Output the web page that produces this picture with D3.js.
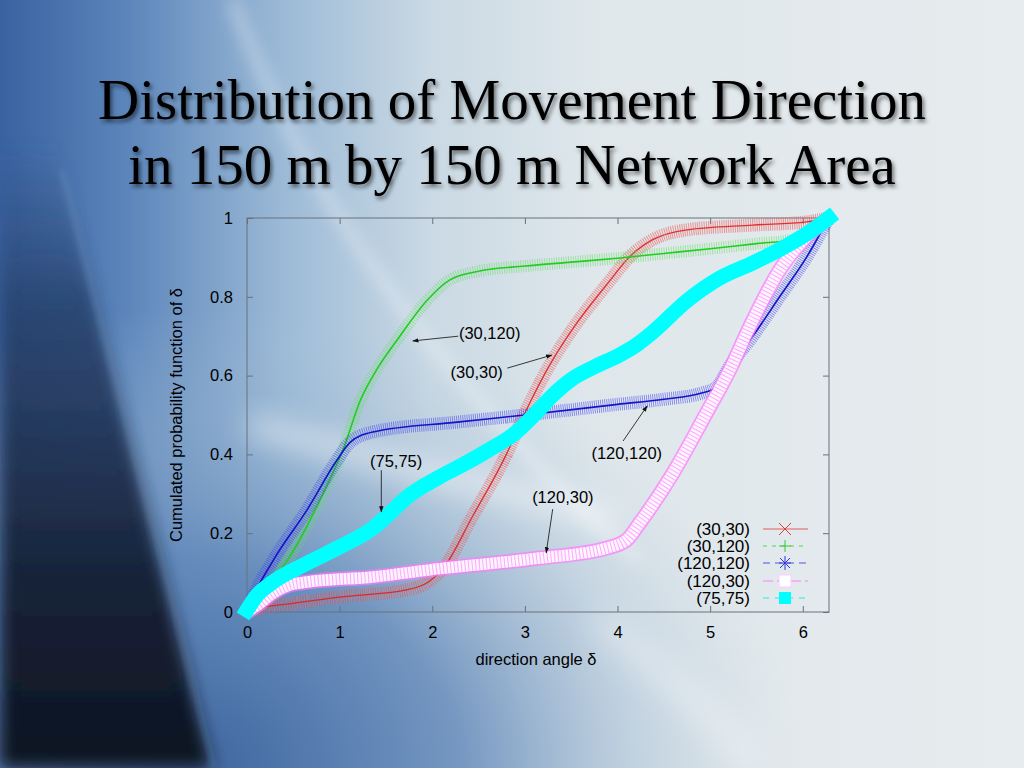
<!DOCTYPE html>
<html><head><meta charset="utf-8">
<script src="https://cdn.jsdelivr.net/npm/d3@7"></script>
<style>
html,body{margin:0;padding:0;overflow:hidden;background:#e4e9ec}
svg{display:block}
text{font-family:"Liberation Sans",Arial,sans-serif}
</style></head>
<body>
<svg id="chart" width="1024" height="768"></svg>
<script>
// ---------- data ----------
const titleLines = ["Distribution of Movement Direction", "in 150 m by 150 m Network Area"];
const xTicks = [0, 1, 2, 3, 4, 5, 6];
const yTicks = [0, 0.2, 0.4, 0.6, 0.8, 1];
const xLabel = "direction angle \u03b4";
const yLabel = "Cumulated probability function of \u03b4";
const seriesNames = ["(30,30)", "(30,120)", "(120,120)", "(120,30)", "(75,75)"];

const s30_30 = [[0.08,0],[0.14,0.01],[0.5,0.022],[1.0,0.038],[1.72,0.056],[1.95,0.075],[2.1,0.105],[2.44,0.245],[2.8,0.4],[3.0,0.505],[3.3,0.64],[3.52,0.72],[3.88,0.83],[4.15,0.906],[4.38,0.945],[4.75,0.97],[5.46,0.982],[6.04,0.99],[6.28,1]];
const s30_120 = [[0,0],[0.21,0.064],[0.46,0.14],[0.82,0.3],[1.05,0.42],[1.22,0.535],[1.4,0.615],[1.65,0.70],[1.94,0.79],[2.19,0.843],[2.5,0.865],[3.0,0.878],[3.5,0.888],[4.0,0.898],[4.5,0.91],[5.0,0.922],[5.5,0.935],[5.9,0.945],[6.1,0.965],[6.28,1]];
const s120_120 = [[0,0],[0.05,0.03],[0.28,0.13],[0.65,0.26],[0.97,0.385],[1.11,0.43],[1.36,0.457],[2.27,0.482],[3.0,0.5],[4.0,0.527],[4.5,0.54],[4.9,0.555],[5.07,0.571],[5.2,0.62],[5.46,0.7],[5.75,0.8],[6.04,0.9],[6.28,1]];
const s120_30 = [[0,0],[0.1,0.015],[0.28,0.048],[0.45,0.068],[0.65,0.076],[1.36,0.089],[2.08,0.11],[3.16,0.137],[3.88,0.162],[4.1,0.183],[4.24,0.226],[4.6,0.353],[4.96,0.505],[5.21,0.614],[5.46,0.74],[5.75,0.868],[6.04,0.952],[6.28,1]];
const s75_75 = [[0,0.005],[0.1,0.04],[0.28,0.076],[0.65,0.124],[1.0,0.165],[1.36,0.213],[1.54,0.25],[1.72,0.29],[2.08,0.343],[2.3,0.37],[2.6,0.41],[2.9,0.455],[3.1,0.5],[3.3,0.55],[3.5,0.59],[3.75,0.622],[4.02,0.652],[4.2,0.677],[4.38,0.71],[4.75,0.79],[5.1,0.847],[5.46,0.886],[5.83,0.93],[6.18,0.982],[6.28,1]];

// annotations: label, label position (x,y), arrow start, arrow end (data units)
const annLabels = ["(30,120)", "(30,30)", "(75,75)", "(120,120)", "(120,30)"];
const annText = [[2.62,0.708],[2.48,0.609],[1.61,0.383],[4.10,0.404],[3.41,0.292]];
const annFrom = [[2.28,0.700],[2.81,0.619],[1.45,0.360],[4.06,0.434],[3.30,0.261]];
const annTo   = [[1.79,0.688],[3.29,0.652],[1.45,0.254],[4.32,0.523],[3.23,0.150]];

// ---------- drawing ----------
const svg = d3.select("#chart");
const W = 1024, H = 768;
const defs = svg.append("defs");

// background gradients
const g1 = defs.append("linearGradient").attr("id","bgH").attr("x1",0).attr("y1",0).attr("x2",1).attr("y2",0);
[[0,"#3a62a0"],[0.12,"#5a84ba"],[0.28,"#9dbbd7"],[0.42,"#cad9e4"],[0.58,"#dfe7eb"],[1,"#e7ecee"]].forEach(s=>g1.append("stop").attr("offset",s[0]).attr("stop-color",s[1]));
const g2 = defs.append("radialGradient").attr("id","bgR").attr("cx",0.18).attr("cy",1).attr("r",0.6);
[[0,"#3d649e",1],[0.45,"#5f86b8",0.8],[0.75,"#92b0ce",0.35],[1,"#b0c6da",0]].forEach(s=>g2.append("stop").attr("offset",s[0]).attr("stop-color",s[1]).attr("stop-opacity",s[2]));
const g3 = defs.append("linearGradient").attr("id","bgD").attr("x1",0).attr("y1",0).attr("x2",0).attr("y2",1);
[[0,"#2d4d80",0],[0.25,"#27426e",0.85],[0.7,"#162238",1],[1,"#0e1420",1]].forEach(s=>g3.append("stop").attr("offset",s[0]).attr("stop-color",s[1]).attr("stop-opacity",s[2]));
defs.append("filter").attr("id","blur8").attr("x","-20%").attr("y","-20%").attr("width","140%").attr("height","140%")
  .append("feGaussianBlur").attr("stdDeviation",8);
defs.append("filter").attr("id","blur3").attr("x","-20%").attr("y","-20%").attr("width","140%").attr("height","140%")
  .append("feGaussianBlur").attr("stdDeviation",3);
defs.append("filter").attr("id","blur14").attr("x","-30%").attr("y","-30%").attr("width","160%").attr("height","160%")
  .append("feGaussianBlur").attr("stdDeviation",14);
const sh = defs.append("filter").attr("id","shadow").attr("x","-10%").attr("y","-20%").attr("width","120%").attr("height","150%");
sh.append("feDropShadow").attr("dx",2).attr("dy",3).attr("stdDeviation",2).attr("flood-color","#000").attr("flood-opacity",0.55);

const bg = svg.append("g");
bg.append("rect").attr("width",W).attr("height",H).attr("fill","url(#bgH)");
bg.append("rect").attr("width",W).attr("height",H).attr("fill","url(#bgR)");
bg.append("path").attr("d","M0,140 L55,140 L212,768 L0,768 Z").attr("fill","url(#bgD)").attr("filter","url(#blur8)");
// light streaks
bg.append("path").attr("d","M232,0 Q300,180 420,330 T640,560").attr("fill","none").attr("stroke","#ffffff").attr("stroke-opacity",0.4).attr("stroke-width",10).attr("filter","url(#blur8)");
bg.append("path").attr("d","M62,170 L214,768").attr("fill","none").attr("stroke","#8fb0d6").attr("stroke-opacity",0.4).attr("stroke-width",3).attr("filter","url(#blur3)");
bg.append("path").attr("d","M250,425 Q420,470 620,520").attr("fill","none").attr("stroke","#ffffff").attr("stroke-opacity",0.5).attr("stroke-width",22).attr("filter","url(#blur14)");
bg.append("path").attr("d","M600,620 Q700,700 760,768").attr("fill","none").attr("stroke","#ffffff").attr("stroke-opacity",0.3).attr("stroke-width",30).attr("filter","url(#blur14)");

// title
const title = svg.append("g").attr("filter","url(#shadow)");
title.selectAll("text").data(titleLines).join("text")
  .attr("x",512).attr("y",(d,i)=>119+i*65)
  .attr("text-anchor","middle")
  .style("font-family",'"Liberation Serif","Times New Roman",serif')
  .style("font-size","57px").attr("fill","#000").text(d=>d);

// scales
const x = d3.scaleLinear().domain([0, 2*Math.PI]).range([247, 829]);
const y = d3.scaleLinear().domain([0, 1]).range([612, 218]);

// frame
const frame = svg.append("g");
frame.append("rect").attr("x",x(0)).attr("y",y(1)).attr("width",x(2*Math.PI)-x(0)).attr("height",y(0)-y(1))
  .attr("fill","none").attr("stroke","#6b7078").attr("stroke-width",1);

// axes via d3.axis (inward ticks), plus mirror ticks
const fs = "16.5px";
const axB = svg.append("g").attr("transform",`translate(0,${y(0)})`).call(d3.axisBottom(x).tickValues(xTicks).tickSize(-6).tickPadding(14).tickFormat(d3.format("d")));
const axT = svg.append("g").attr("transform",`translate(0,${y(1)})`).call(d3.axisTop(x).tickValues(xTicks).tickSize(-6).tickFormat(""));
const axL = svg.append("g").attr("transform",`translate(${x(0)},0)`).call(d3.axisLeft(y).tickValues(yTicks).tickSize(-6).tickPadding(14).tickFormat(d=>d===0||d===1?d3.format("d")(d):d3.format(".1f")(d)));
const axR = svg.append("g").attr("transform",`translate(${x(2*Math.PI)},0)`).call(d3.axisRight(y).tickValues(yTicks).tickSize(-6).tickFormat(""));
[axB,axT,axL,axR].forEach(a=>{
  a.select(".domain").remove();
  a.selectAll(".tick line").attr("stroke","#6b7078");
  a.selectAll(".tick text").attr("fill","#000").style("font-size",fs).style("font-family",'"Liberation Sans",Arial,sans-serif');
});

// axis labels
svg.append("text").attr("x",536).attr("y",665).attr("text-anchor","middle").style("font-size","16.5px").attr("fill","#000").text(xLabel);
svg.append("text").attr("transform","translate(182,415) rotate(-90)").attr("text-anchor","middle").style("font-size","16.5px").attr("fill","#000").text(yLabel);

// series
const line = d3.line().x(d=>x(d[0])).y(d=>y(d[1])).curve(d3.curveMonotoneX);
const plot = svg.append("g");
function band(data, color, width, dash, op){
  plot.append("path").attr("d",line(data)).attr("fill","none").attr("stroke",color)
    .attr("stroke-width",width).attr("stroke-dasharray",dash).attr("stroke-opacity",op);
}
function thin(data,color,width,op){
  plot.append("path").attr("d",line(data)).attr("fill","none").attr("stroke",color).attr("stroke-width",width).attr("stroke-opacity",op);
}
// (30,30) red crosses
band(s30_30,"#e84848",13,"0.9 1.3",0.55);
band(s30_30,"#f59a9a",13,"0.6 2.0",0.35);
thin(s30_30,"#e02020",1.3,0.9);
// (30,120) green plus
band(s30_120,"#66e066",12,"0.9 1.5",0.6);
thin(s30_120,"#22cc22",1.6,1);
// (120,120) blue stars
band(s120_120,"#4040ec",13,"0.9 1.2",0.58);
thin(s120_120,"#1414c8",1.6,1);
// (120,30) pink open squares
band(s120_30,"#ff77ff",15,"none",0.7);
band(s120_30,"#ffffff",11.5,"none",0.9);
band(s120_30,"#ff77ff",11.5,"1 2.6",0.6);
// (75,75) cyan filled squares
plot.append("path").attr("d",line(s75_75)).attr("fill","none").attr("stroke","#00ffff").attr("stroke-width",15).attr("stroke-linecap","square");

// annotations
defs.append("marker").attr("id","arr").attr("viewBox","0 0 10 10").attr("refX",9).attr("refY",5)
  .attr("markerWidth",7).attr("markerHeight",7).attr("orient","auto")
  .append("path").attr("d","M0,1.5 L10,5 L0,8.5 Z").attr("fill","#111");
const ann = svg.append("g");
annLabels.forEach((t,i)=>{
  ann.append("line").attr("x1",x(annFrom[i][0])).attr("y1",y(annFrom[i][1]))
    .attr("x2",x(annTo[i][0])).attr("y2",y(annTo[i][1]))
    .attr("stroke","#222").attr("stroke-width",0.9).attr("marker-end","url(#arr)");
  ann.append("text").attr("x",x(annText[i][0])).attr("y",y(annText[i][1])).attr("dy","0.36em")
    .attr("text-anchor","middle").style("font-size","16.5px").attr("fill","#000").text(t);
});

// legend
const leg = svg.append("g");
const legY = [529, 546, 563, 581, 598];
const legColors = ["#e03a3a","#33cc33","#3333dd","#ff66ff","#00e8e8"];
const legDash = ["none","4 5","7 5","10 4","6 6"];
seriesNames.forEach((n,i)=>{
  const yy = legY[i];
  leg.append("text").attr("x",750).attr("y",yy).attr("dy","0.36em").attr("text-anchor","end").style("font-size","17px").attr("fill","#000").text(n);
  leg.append("line").attr("x1",763).attr("x2",808).attr("y1",yy).attr("y2",yy).attr("stroke",legColors[i]).attr("stroke-width",1).attr("stroke-dasharray",legDash[i]).attr("stroke-opacity",0.8);
  const cx = 785;
  if(i===0){
    leg.append("path").attr("d",`M${cx-6},${yy-6}L${cx+6},${yy+6}M${cx-6},${yy+6}L${cx+6},${yy-6}`).attr("stroke","#e03a3a").attr("stroke-width",1);
  } else if(i===1){
    leg.append("path").attr("d",`M${cx-6},${yy}L${cx+6},${yy}M${cx},${yy-6}L${cx},${yy+6}`).attr("stroke","#33cc33").attr("stroke-width",1);
  } else if(i===2){
    leg.append("path").attr("d",`M${cx-6},${yy}L${cx+6},${yy}M${cx},${yy-7}L${cx},${yy+7}M${cx-5},${yy-5}L${cx+5},${yy+5}M${cx-5},${yy+5}L${cx+5},${yy-5}`).attr("stroke","#3333dd").attr("stroke-width",1);
  } else if(i===3){
    leg.append("rect").attr("x",cx-6).attr("y",yy-6).attr("width",12).attr("height",12).attr("fill","#fff").attr("stroke","#ffccff").attr("stroke-width",1);
  } else {
    leg.append("rect").attr("x",cx-6).attr("y",yy-6).attr("width",12).attr("height",12).attr("fill","#00ffff");
  }
});
</script>
</body></html>
